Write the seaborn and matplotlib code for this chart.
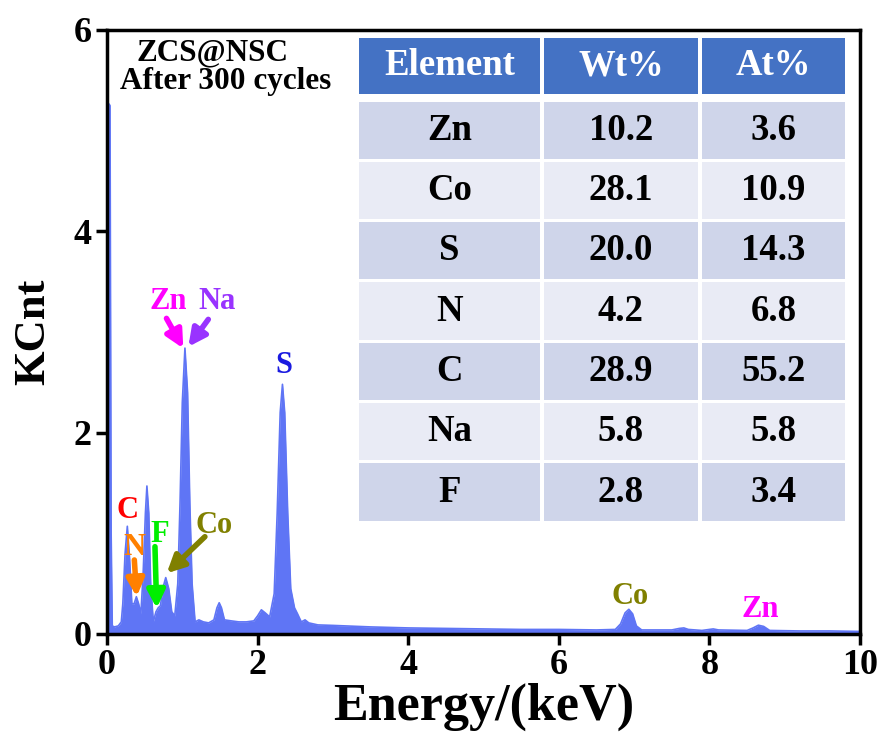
import matplotlib
matplotlib.use("Agg")
import matplotlib.pyplot as plt
import seaborn as sns
import pandas as pd
from matplotlib.patches import Rectangle

# EDS spectrum (energy in keV, counts in KCnt)
energy = [0.000, 0.010, 0.040, 0.055, 0.070, 0.100, 0.150, 0.190,
          0.210, 0.240, 0.270, 0.300, 0.330, 0.360, 0.390, 0.420, 0.450,
          0.480, 0.510, 0.530, 0.555, 0.580, 0.615, 0.650, 0.680, 0.710,
          0.740, 0.780, 0.820, 0.860, 0.900, 0.940, 0.970, 1.000, 1.035,
          1.070, 1.100, 1.130, 1.170, 1.220, 1.280, 1.350, 1.420, 1.460,
          1.490, 1.520, 1.560, 1.650, 1.750, 1.850, 1.950, 2.000, 2.050,
          2.100, 2.160, 2.220, 2.260, 2.300, 2.330, 2.360, 2.400, 2.440,
          2.490, 2.530, 2.580, 2.630, 2.680, 2.800, 3.000, 3.500, 4.000,
          4.500, 5.000, 5.500, 6.000, 6.500, 6.750, 6.820, 6.880, 6.930,
          6.980, 7.030, 7.100, 7.500, 7.600, 7.660, 7.720, 7.900, 8.000,
          8.050, 8.120, 8.500, 8.580, 8.650, 8.720, 8.800, 9.200, 9.600,
          10.00]
kcnt = [0.00, 5.28, 5.25, 1.00, 0.08, 0.07, 0.08, 0.12,
        0.30, 0.80, 1.07, 0.75, 0.30, 0.30, 0.37, 0.30, 0.20,
        0.60, 1.20, 1.47, 1.20, 0.50, 0.12, 0.22, 0.26, 0.28,
        0.45, 0.56, 0.45, 0.22, 0.18, 0.50, 1.30, 2.30, 2.84,
        2.40, 1.30, 0.50, 0.12, 0.14, 0.12, 0.11, 0.14, 0.26,
        0.31, 0.26, 0.14, 0.13, 0.12, 0.12, 0.13, 0.18, 0.24,
        0.21, 0.17, 0.40, 1.20, 2.20, 2.48, 2.20, 1.20, 0.45,
        0.26, 0.20, 0.12, 0.14, 0.11, 0.09, 0.085, 0.07, 0.06,
        0.055, 0.05, 0.045, 0.045, 0.04, 0.045, 0.10, 0.21, 0.245,
        0.20, 0.08, 0.04, 0.04, 0.055, 0.06, 0.045, 0.035, 0.045,
        0.05, 0.04, 0.035, 0.06, 0.087, 0.075, 0.035, 0.03, 0.03,
        0.025]

# table contents
elements = ["Zn", "Co", "S", "N", "C", "Na", "F"]
wt_pct = ["10.2", "28.1", "20.0", "4.2", "28.9", "5.8", "2.8"]
at_pct = ["3.6", "10.9", "14.3", "6.8", "55.2", "5.8", "3.4"]
headers = ["Element", "Wt%", "At%"]

# peak labels: text, label position, arrow start, arrow tip, colour
peak_labels = [
    ("Zn", (0.815, 3.30), (0.79, 3.135), (1.013, 2.837), "#FF00FF"),
    ("Na", (1.455, 3.30), (1.345, 3.125), (1.08, 2.853), "#9933FF"),
    ("S", (2.35, 2.67), None, None, "#1a1ae0"),
    ("C", (0.275, 1.23), None, None, "#FF0000"),
    ("N", (0.36, 0.86), (0.363, 0.735), (0.394, 0.37), "#FF8000"),
    ("F", (0.70, 0.99), (0.637, 0.867), (0.66, 0.255), "#00EE00"),
    ("Co", (1.425, 1.08), (1.30, 0.966), (0.793, 0.603), "#808000"),
    ("Co", (6.95, 0.377), None, None, "#808000"),
    ("Zn", (8.67, 0.245), None, None, "#FF00FF"),
]

sns.set_style("ticks")
plt.rcParams["font.family"] = ["Liberation Serif", "DejaVu Serif"]
plt.rcParams["font.weight"] = "bold"
plt.rcParams["text.color"] = "black"
plt.rcParams["axes.labelcolor"] = "black"
plt.rcParams["xtick.color"] = "black"
plt.rcParams["ytick.color"] = "black"

fig = plt.figure(figsize=(8.85, 7.42), dpi=100)
ax = fig.add_axes([0.1209, 0.1456, 0.8509, 0.814])

df = pd.DataFrame({"Energy": energy, "KCnt": kcnt})
spec_col = "#5f75f5"
ax.fill_between(df["Energy"], 0, df["KCnt"], color=spec_col, lw=0)
sns.lineplot(data=df, x="Energy", y="KCnt", ax=ax, color=spec_col, lw=1.2)

ax.set_xlim(0, 10)
ax.set_ylim(0, 6)
ax.set_xticks([0, 2, 4, 6, 8, 10])
ax.set_yticks([0, 2, 4, 6])
ax.set_xlabel("Energy/(keV)", fontsize=37.5, fontweight="bold", labelpad=0)
ax.set_ylabel("KCnt", fontsize=32, fontweight="bold", labelpad=15)
ax.tick_params(axis="both", direction="out", length=8, width=2.5,
               labelsize=26, pad=3)
for lab in ax.get_xticklabels() + ax.get_yticklabels():
    lab.set_fontweight("bold")
for sp in ax.spines.values():
    sp.set_visible(True)
    sp.set_linewidth(2.5)
    sp.set_color("black")

# sample caption
ax.text(0.1395, 0.962, "ZCS@NSC", transform=ax.transAxes, fontsize=22.5,
        fontweight="bold", ha="center", va="center")
ax.text(0.158, 0.915, "After 300 cycles", transform=ax.transAxes, fontsize=22.5,
        fontweight="bold", ha="center", va="center")

# peak labels and arrows
for txt, pos, start, tip, col in peak_labels:
    ax.text(pos[0], pos[1], txt, color=col, fontsize=22, fontweight="bold",
            ha="center", va="center")
    if start is not None:
        ax.annotate("", xy=tip, xytext=start,
                    arrowprops=dict(arrowstyle="-|>", color=col, lw=4,
                                    mutation_scale=26, shrinkA=0, shrinkB=0))

# composition table drawn in axes fraction
col_edges = [0.332, 0.5775, 0.7875, 0.983]
head_top, head_bot = 0.987, 0.894
row_top, row_bot = 0.884, 0.185
row_h = (row_top - row_bot) / len(elements)
gap = 0.0025
head_col = "#4472C4"
row_cols = ["#CFD5EA", "#E9EBF5"]

for j in range(3):
    x0, x1 = col_edges[j] + gap, col_edges[j + 1] - gap
    ax.add_patch(Rectangle((x0, head_bot), x1 - x0, head_top - head_bot,
                           transform=ax.transAxes, color=head_col, lw=0, zorder=3))
    ax.text((x0 + x1) / 2, (head_top + head_bot) / 2, headers[j],
            transform=ax.transAxes, color="white", fontsize=26.5,
            fontweight="bold", ha="center", va="center", zorder=4)

for i, vals in enumerate(zip(elements, wt_pct, at_pct)):
    y1 = row_top - i * row_h
    y0 = y1 - row_h
    for j in range(3):
        x0, x1 = col_edges[j] + gap, col_edges[j + 1] - gap
        ax.add_patch(Rectangle((x0, y0 + gap), x1 - x0, row_h - 2 * gap,
                               transform=ax.transAxes, color=row_cols[i % 2],
                               lw=0, zorder=3))
        ax.text((x0 + x1) / 2, (y0 + y1) / 2, vals[j], transform=ax.transAxes,
                color="black", fontsize=26.5, fontweight="bold",
                ha="center", va="center", zorder=4)

fig.savefig("out.png", dpi=100)
